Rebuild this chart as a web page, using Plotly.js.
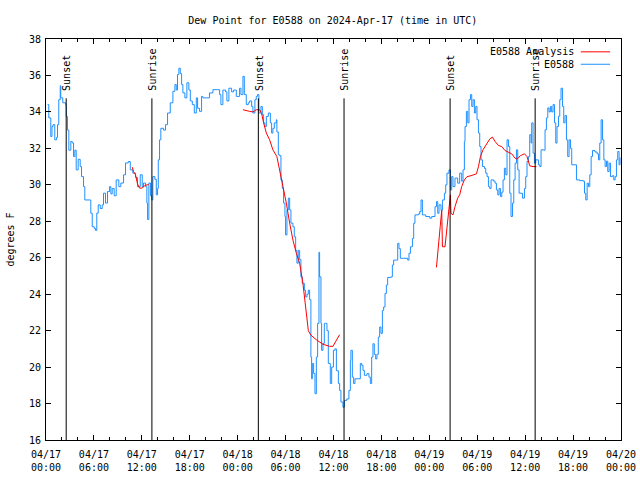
<!DOCTYPE html>
<html>
<head>
<meta charset="utf-8">
<script src="https://cdn.plot.ly/plotly-3.0.1.min.js"></script>
<style>html,body{margin:0;padding:0;background:#fff;}#chart{width:640px;height:480px;}</style>
</head>
<body>
<div id="chart"></div>
<script>
// Hours after 2024-04-17 00:00 UTC, and dew point (deg F) for station E0588
const obsHours = [0.19,0.35,0.60,0.75,0.88,1.10,1.32,1.44,1.60,1.78,1.85,2.10,2.44,2.53,2.69,2.86,3.11,3.28,3.45,3.61,3.78,4.03,4.28,4.45,4.70,4.86,5.45,5.61,5.79,6.04,6.20,6.36,6.54,6.79,7.04,7.20,7.45,7.70,7.96,8.12,8.29,8.54,8.79,9.12,9.37,9.71,9.96,10.30,10.55,10.87,11.21,11.46,11.80,12.05,12.21,12.47,12.63,12.72,12.88,13.09,13.25,13.38,13.63,13.81,13.97,14.06,14.22,14.38,14.72,14.97,15.22,15.56,15.89,16.14,16.31,16.47,16.64,16.81,16.98,17.14,17.39,17.64,17.89,18.07,18.32,18.57,18.82,18.98,19.23,19.48,19.64,20.07,20.48,20.90,21.49,21.74,21.90,22.15,22.49,22.65,22.90,23.24,23.49,23.83,24.24,24.41,24.66,24.83,25.08,25.33,25.49,25.75,25.91,26.16,26.33,26.49,26.66,26.91,27.09,27.25,27.41,27.59,27.84,28.09,28.25,28.41,28.59,28.84,28.91,29.09,29.25,29.42,29.59,29.75,29.92,30.00,30.17,30.34,30.51,30.67,30.92,31.09,31.26,31.42,31.59,31.76,31.92,32.09,32.35,32.51,32.68,32.85,33.01,33.17,33.26,33.35,33.51,33.68,33.85,34.01,34.18,34.26,34.43,34.51,34.68,34.85,35.01,35.18,35.35,35.60,35.77,35.99,36.18,36.36,36.61,36.77,36.93,37.18,37.36,37.65,37.93,38.11,38.18,38.36,38.52,38.69,39.19,39.36,39.53,39.69,39.86,40.19,40.44,40.61,40.78,40.94,41.11,41.28,41.44,41.61,41.78,41.94,42.12,42.28,42.45,42.62,42.78,43.20,43.37,43.53,43.87,44.04,44.20,44.37,44.79,45.29,45.45,45.63,45.88,46.04,46.20,46.63,46.79,46.96,47.13,47.55,48.05,48.30,48.71,48.89,49.05,49.21,49.46,49.64,49.89,50.05,50.21,50.46,50.64,50.80,50.96,51.21,51.55,51.80,52.05,52.22,52.39,52.47,52.64,52.81,52.97,53.15,53.31,53.47,53.64,53.81,53.97,54.15,54.31,54.47,54.65,54.90,55.06,55.23,55.40,55.56,55.73,56.06,56.23,56.40,56.57,56.73,56.90,57.07,57.23,57.40,57.57,57.73,57.91,58.07,58.23,58.41,58.57,58.74,58.91,59.07,59.24,59.66,59.91,60.07,60.23,60.41,60.57,60.74,60.82,60.99,61.16,61.32,61.66,61.83,61.99,62.33,62.49,62.66,62.83,62.99,63.16,63.32,63.49,63.67,63.83,63.99,64.17,64.33,64.49,64.67,64.83,64.99,65.17,65.33,65.50,65.67,65.83,66.25,66.42,66.84,67.25,67.43,67.59,67.76,67.93,68.09,68.26,68.43,68.75,69.01,69.18,69.34,69.51,69.68,69.85,70.01,70.18,70.34,70.51,70.68,70.93,71.10,71.26,71.43,71.59,71.76,71.88];
const obsDewF = [34.4,33.67,32.65,33.2,33.3,32.47,32.6,33.3,34.67,35.44,34.77,34.5,34.4,33.75,33.0,31.9,32.38,32.3,31.55,31.9,30.82,31.4,31.0,30.45,29.9,29.17,29.17,28.44,27.7,27.6,27.5,28.45,28.9,28.7,28.9,29.54,29.0,29.63,29.9,29.5,29.8,29.4,30.27,29.9,30.1,30.55,31.2,31.28,30.82,30.64,30.4,29.9,30.55,29.9,30.1,29.9,29.0,28.1,30.1,29.4,29.17,30.45,30.3,29.45,29.8,31.37,32.47,33.1,33.0,33.3,33.94,34.5,35.13,35.5,35.2,36.05,36.4,36.1,35.5,35.04,34.77,35.6,35.2,34.6,34.4,33.94,34.77,34.2,34.03,34.85,34.77,34.77,35.04,35.22,35.22,34.95,34.4,35.2,35.1,34.6,35.3,35.1,35.2,34.85,35.3,34.95,35.95,34.95,34.4,34.5,34.6,34.3,33.94,34.67,34.85,34.95,33.94,34.3,33.85,33.4,33.2,33.75,33.94,33.4,32.84,33.1,33.4,33.57,32.9,31.65,31.6,30.27,29.8,29.0,28.26,27.25,28.62,29.27,28.62,27.9,27.7,27.15,26.4,25.7,26.4,25.9,24.95,24.6,24.22,23.85,24.0,24.22,23.7,20.55,19.36,20.2,19.65,18.54,20.55,22.4,26.3,24.95,22.4,20.92,21.3,22.4,22.4,22.0,20.2,19.1,20.0,20.92,21.0,19.8,19.1,18.72,18.08,17.8,18.17,18.25,18.72,20.37,20.92,19.45,19.1,19.36,19.36,20.2,20.1,19.82,19.55,19.64,19.45,19.1,20.55,21.28,20.7,20.45,20.7,21.65,22.2,21.85,23.1,23.3,24.04,24.5,24.92,24.95,25.6,25.87,25.87,26.79,26.5,25.97,25.97,25.87,26.24,26.6,27.06,27.89,28.35,28.4,28.53,29.17,28.35,28.26,28.17,28.26,28.8,29.08,28.44,28.9,28.6,29.17,29.54,30.0,30.64,30.82,29.72,30.45,29.9,30.37,30.09,30.64,30.2,30.82,32.38,33.2,34.03,33.4,34.67,34.95,34.3,34.67,33.94,34.3,33.57,32.84,32.1,31.37,31.0,30.9,30.64,30.45,29.9,29.8,30.27,30.2,30.09,29.72,29.45,29.8,29.35,29.6,30.27,30.91,30.55,32.47,32.1,29.54,28.26,29.0,30.27,31.19,31.92,30.82,29.54,29.27,29.8,30.45,31.28,31.55,32.75,32.29,33.4,31.74,31.19,31.37,31.1,31.0,31.92,31.9,33.02,33.67,34.22,34.0,34.3,34.0,34.4,33.4,32.29,33.2,33.76,34.67,35.3,34.3,33.4,33.8,32.47,31.55,32.47,32.0,31.1,31.1,30.27,30.23,30.2,29.54,29.17,30.09,29.9,30.55,31.55,31.88,31.8,31.7,31.37,32.29,33.57,32.47,31.37,31.0,31.3,30.73,31.19,30.45,30.5,30.27,30.45,31.37,31.83,31.1,31.5];

// Analysis series (null marks the gaps between analysis windows)
const anaHours = [10.80,10.96,11.21,11.46,11.71,12.05,12.30,12.63,12.88,13.0,24.66,25.12,25.49,25.91,26.33,26.75,27.00,27.25,27.59,28.00,28.41,28.91,29.25,29.67,30.09,30.51,30.92,31.35,31.76,32.17,32.42,32.60,32.85,33.17,33.85,34.68,35.52,35.93,36.36,36.77,40.0,48.89,49.05,49.21,49.36,49.55,49.64,49.96,50.14,50.30,50.46,50.64,50.71,50.96,51.21,51.55,51.80,52.05,52.39,52.72,53.22,53.90,54.15,54.40,54.72,55.15,55.56,55.90,56.23,56.65,57.07,57.48,57.91,58.32,58.74,58.99,59.41,59.91,60.23,60.57,60.99,61.41];
const anaDewF = [30.97,30.73,30.55,30.05,29.82,29.82,29.94,30.0,30.0,null,34.12,34.05,34.03,34.0,34.12,34.12,33.9,33.4,32.84,32.47,31.92,31.55,30.82,29.72,29.0,27.9,26.97,26.24,25.7,24.6,23.49,22.75,22.0,21.75,21.5,21.25,21.14,21.14,21.5,21.78,null,25.47,26.42,27.15,27.7,28.6,26.6,26.6,27.34,28.3,28.8,29.45,28.44,28.35,28.8,29.27,29.45,29.9,30.27,30.45,30.5,30.6,31.0,31.55,31.92,32.2,32.51,32.62,32.38,32.16,32.1,31.88,31.77,31.7,31.46,31.41,31.6,31.7,31.55,31.04,31.0,31.0];

// Sun events (hours after 2024-04-17 00:00 UTC)
const sunLabels = ["Sunset","Sunrise","Sunset","Sunrise","Sunset","Sunrise"];
const sunHours = [2.53,13.26,26.59,37.32,50.60,61.25];

const yTickVals = [16,18,20,22,24,26,28,30,32,34,36,38];

const seriesNames = ["E0588 Analysis","E0588"];
const seriesColors = ["#ff0000","#1e90ff"];

const base = Date.UTC(2024,3,17,0,0,0);
function toDate(h){
  if (h === null) return null;
  return new Date(base + Math.round(h*3600000)).toISOString().slice(0,19).replace('T',' ');
}

const FONT = "DejaVu Sans Mono, monospace";

const traces = [
  {x: obsHours.map(toDate), y: obsDewF, type:'scatter', mode:'lines', name: seriesNames[1],
   line:{color: seriesColors[1], width:1, shape:'hv'}, showlegend:false, hoverinfo:'skip'},
  {x: anaHours.map(toDate), y: anaDewF, type:'scatter', mode:'lines', name: seriesNames[0],
   line:{color: seriesColors[0], width:1}, connectgaps:false, showlegend:false, hoverinfo:'skip'}
];

const shapes = [];
const annotations = [];
sunHours.forEach((h,i)=>{
  shapes.push({type:'line', xref:'x', yref:'paper', x0:toDate(h), x1:toDate(h), y0:0, y1:0.852,
    line:{color:'#000', width:1}});
  annotations.push({text: sunLabels[i], xref:'x', yref:'paper', x:toDate(h), y:0.866,
    xanchor:'center', yanchor:'bottom', textangle:-90, showarrow:false, xshift:1,
    font:{family:FONT, size:10, color:'#000'}});
});

// gnuplot-style key (text then sample line)
const keyY = [0.968, 0.937];
seriesNames.forEach((nm,i)=>{
  annotations.push({text: nm, xref:'paper', yref:'paper', x:0.921, y:keyY[i],
    xanchor:'right', yanchor:'middle', showarrow:false, font:{family:FONT, size:10, color:'#000'}});
  shapes.push({type:'line', xref:'paper', yref:'paper', x0:0.930, x1:0.981, y0:keyY[i], y1:keyY[i],
    line:{color: seriesColors[i], width:1}});
});

const layout = {
  width:640, height:480,
  margin:{l:46, r:19, t:39, b:40},
  paper_bgcolor:'#fff', plot_bgcolor:'#fff',
  font:{family:FONT, size:10, color:'#000'},
  title:{text:'Dew Point for E0588 on 2024-Apr-17 (time in UTC)', x:0.52, xanchor:'center',
         y:0.958, yanchor:'middle', font:{family:FONT, size:10, color:'#000'}},
  showlegend:false,
  xaxis:{type:'date', range:[toDate(0), toDate(72)], tick0:toDate(0), dtick:6*3600000,
    tickformat:'%m/%d<br>%H:%M', ticks:'inside', ticklen:5, tickwidth:1, tickcolor:'#000',
    ticklabelstandoff:5,
    showline:true, linecolor:'#000', linewidth:1, mirror:'ticks', showgrid:false, zeroline:false,
    minor:{dtick:2*3600000, ticks:'inside', ticklen:3, tickcolor:'#000', showgrid:false},
    tickfont:{family:FONT, size:10, color:'#000'}, fixedrange:true},
  yaxis:{range:[16,38], tickvals:yTickVals, ticks:'inside', ticklen:5, tickwidth:1, tickcolor:'#000',
    ticklabelstandoff:2,
    showline:true, linecolor:'#000', linewidth:1, mirror:'ticks', showgrid:false, zeroline:false,
    title:{text:'degrees F', font:{family:FONT, size:10, color:'#000'}, standoff:12},
    tickfont:{family:FONT, size:10, color:'#000'}, fixedrange:true},
  shapes: shapes,
  annotations: annotations
};

Plotly.newPlot('chart', traces, layout, {staticPlot:true, displayModeBar:false});
</script>
</body>
</html>
